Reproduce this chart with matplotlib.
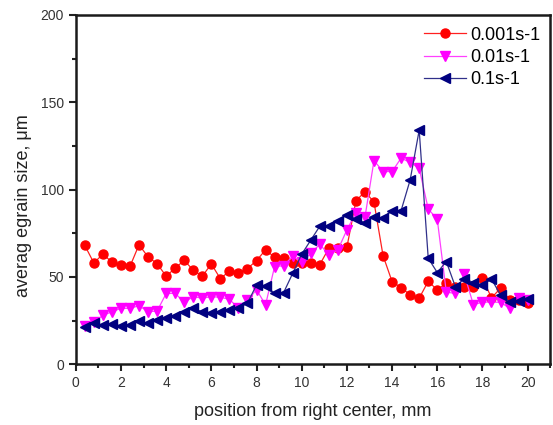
import numpy as np
import matplotlib
matplotlib.use("Agg")
import matplotlib.pyplot as plt
from matplotlib.ticker import MultipleLocator

plt.rcParams['font.family'] = ['Liberation Sans', 'DejaVu Sans']

# positions along the sample, mm
position = [round(0.4 * (i + 1), 1) for i in range(50)]

rate_labels = ["0.001s-1", "0.01s-1", "0.1s-1"]

grain_001 = [68, 58, 63, 58.5, 56.7, 56, 68.4, 61.4, 57.6, 50.4,
             55, 59.5, 53.8, 50.4, 57.4, 49, 53.3, 52.3, 54.8, 59.3,
             65.5, 61.2, 61, 58, 58, 58, 57, 66.4, 66.4, 67,
             93.5, 98.8, 92.8, 62.2, 47.3, 43.9, 39.7, 37.8, 47.5, 42.5,
             46.5, 44, 44, 44, 49.3, 38, 43.5, 37, 37, 35]

grain_01 = [22, 24, 28, 30, 32, 32, 33.5, 30.1, 30.4, 40.5,
            40.6, 35.4, 38.7, 37.8, 38.7, 38.3, 37.2, 32, 36.5, 42.7,
            34, 55.9, 56.4, 61.8, 58.5, 63.4, 68.7, 62.6, 65.4, 76.9,
            86.8, 84.2, 116.6, 110.3, 110.3, 118, 115.5, 112.2, 88.9, 83,
            41.3, 40.5, 51.4, 34, 35.6, 35.5, 35.5, 32, 37.8, 37]

grain_1 = [21.5, 23.5, 22.5, 23, 22, 22.5, 24.5, 23.5, 25.5, 26.3,
           27.5, 30, 32, 30, 29.5, 30, 31, 32, 35, 45.4,
           45, 40.5, 41, 52, 63, 71, 79, 79, 82, 85.5,
           83, 81, 84.5, 83.6, 88, 88, 105.5, 134, 60.7, 52.5,
           58.8, 44.4, 49, 46.7, 45.4, 48.7, 39.7, 35.8, 36, 37.2]

fig = plt.figure(figsize=(5.53, 4.25), dpi=100)
ax = fig.add_axes([0.137, 0.143, 0.858, 0.822])

ax.plot(position, grain_001, color="#ff2020", lw=0.9, marker="o", ms=6.5,
        mfc="#ff0000", mec="#ff0000", label=rate_labels[0])
ax.plot(position, grain_01, color="#ff40ff", lw=0.9, marker="v", ms=7,
        mfc="#ff00ff", mec="#ff00ff", label=rate_labels[1])
ax.plot(position, grain_1, color="#30308a", lw=0.9, marker="<", ms=7,
        mfc="#000080", mec="#000080", label=rate_labels[2])

ax.set_xlim(0, 21)
ax.set_ylim(0, 200)
ax.xaxis.set_major_locator(MultipleLocator(2))
ax.xaxis.set_minor_locator(MultipleLocator(1))
ax.yaxis.set_major_locator(MultipleLocator(50))
ax.yaxis.set_minor_locator(MultipleLocator(25))
ax.tick_params(which="major", direction="out", length=5, width=1.5,
               labelsize=10, colors="#222222", labelcolor="#333333")
ax.tick_params(which="minor", direction="out", length=3, width=1.5, colors="#222222")
for sp in ax.spines.values():
    sp.set_linewidth(1.8)
    sp.set_color("#1a1a1a")

ax.set_xlabel("position from right center, mm", fontsize=13, labelpad=9, color="#222222")
ax.set_ylabel("averag egrain size, \u03bcm", fontsize=13, color="#222222")
ax.yaxis.set_label_coords(-0.092, 0.453)

ax.legend(loc="upper right", frameon=False, fontsize=13, handlelength=2.3,
          handletextpad=0.25, labelspacing=0.3, borderaxespad=0.15,
          bbox_to_anchor=(1.0, 0.995))

fig.savefig("out.png", dpi=100)
